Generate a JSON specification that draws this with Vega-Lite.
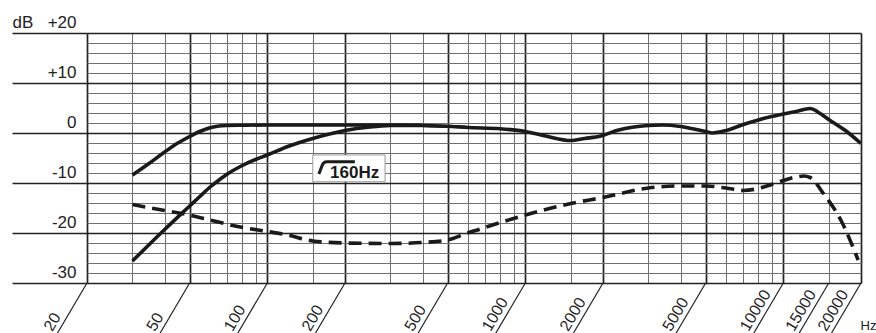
{
  "$schema": "https://vega.github.io/schema/vega-lite/v6.json",
  "width": 774,
  "height": 250,
  "autosize": {"type": "none"},
  "padding": {"left": 87, "top": 33, "right": 15, "bottom": 50},
  "background": "white",
  "config": {"view": {"stroke": null}, "font": "Liberation Sans"},
  "datasets": {
    "curves": [
      {"series": "A", "hz": 30, "db": -8.4},
      {"series": "A", "hz": 35, "db": -6.0},
      {"series": "A", "hz": 40, "db": -3.8},
      {"series": "A", "hz": 45, "db": -2.0},
      {"series": "A", "hz": 50, "db": -0.7},
      {"series": "A", "hz": 55, "db": 0.35},
      {"series": "A", "hz": 60, "db": 1.05},
      {"series": "A", "hz": 65, "db": 1.4},
      {"series": "A", "hz": 70, "db": 1.5},
      {"series": "A", "hz": 80, "db": 1.55},
      {"series": "A", "hz": 100, "db": 1.6},
      {"series": "A", "hz": 150, "db": 1.6},
      {"series": "A", "hz": 200, "db": 1.6},
      {"series": "A", "hz": 300, "db": 1.6},
      {"series": "A", "hz": 400, "db": 1.5},
      {"series": "A", "hz": 500, "db": 1.35},
      {"series": "A", "hz": 600, "db": 1.1},
      {"series": "A", "hz": 800, "db": 0.85},
      {"series": "A", "hz": 1000, "db": 0.3},
      {"series": "A", "hz": 1200, "db": -0.6},
      {"series": "A", "hz": 1500, "db": -1.5},
      {"series": "A", "hz": 1700, "db": -1.1},
      {"series": "A", "hz": 1960, "db": -0.6},
      {"series": "A", "hz": 2300, "db": 0.6},
      {"series": "A", "hz": 3000, "db": 1.5},
      {"series": "A", "hz": 3400, "db": 1.6},
      {"series": "A", "hz": 4000, "db": 1.3},
      {"series": "A", "hz": 4500, "db": 0.8},
      {"series": "A", "hz": 5000, "db": 0.3},
      {"series": "A", "hz": 5300, "db": 0.0},
      {"series": "A", "hz": 6000, "db": 0.5},
      {"series": "A", "hz": 7000, "db": 1.7},
      {"series": "A", "hz": 8000, "db": 2.6},
      {"series": "A", "hz": 9000, "db": 3.3},
      {"series": "A", "hz": 10000, "db": 3.8},
      {"series": "A", "hz": 11200, "db": 4.3},
      {"series": "A", "hz": 12700, "db": 4.9},
      {"series": "A", "hz": 13900, "db": 3.9},
      {"series": "A", "hz": 15000, "db": 2.7},
      {"series": "A", "hz": 17400, "db": 0.5},
      {"series": "A", "hz": 20000, "db": -2.1},
      {"series": "B", "hz": 30, "db": -25.6},
      {"series": "B", "hz": 40, "db": -19.3},
      {"series": "B", "hz": 50, "db": -14.6},
      {"series": "B", "hz": 55, "db": -12.6},
      {"series": "B", "hz": 60, "db": -10.8},
      {"series": "B", "hz": 65, "db": -9.4},
      {"series": "B", "hz": 70, "db": -8.2},
      {"series": "B", "hz": 80, "db": -6.5},
      {"series": "B", "hz": 90, "db": -5.3},
      {"series": "B", "hz": 100, "db": -4.4},
      {"series": "B", "hz": 120, "db": -2.7},
      {"series": "B", "hz": 150, "db": -1.1},
      {"series": "B", "hz": 200, "db": 0.5},
      {"series": "B", "hz": 250, "db": 1.2},
      {"series": "B", "hz": 300, "db": 1.5},
      {"series": "B", "hz": 400, "db": 1.55},
      {"series": "C", "hz": 30, "db": -14.3},
      {"series": "C", "hz": 40, "db": -15.5},
      {"series": "C", "hz": 46.6, "db": -16.1},
      {"series": "C", "hz": 60, "db": -17.4},
      {"series": "C", "hz": 75, "db": -18.6},
      {"series": "C", "hz": 100, "db": -19.7},
      {"series": "C", "hz": 120, "db": -20.4},
      {"series": "C", "hz": 150, "db": -21.6},
      {"series": "C", "hz": 200, "db": -22.0},
      {"series": "C", "hz": 300, "db": -22.1},
      {"series": "C", "hz": 400, "db": -21.9},
      {"series": "C", "hz": 500, "db": -21.4},
      {"series": "C", "hz": 590, "db": -20.1},
      {"series": "C", "hz": 670, "db": -19.2},
      {"series": "C", "hz": 800, "db": -17.9},
      {"series": "C", "hz": 1000, "db": -16.4},
      {"series": "C", "hz": 1500, "db": -14.1},
      {"series": "C", "hz": 2000, "db": -12.9},
      {"series": "C", "hz": 3000, "db": -11.0},
      {"series": "C", "hz": 4000, "db": -10.6},
      {"series": "C", "hz": 5000, "db": -10.6},
      {"series": "C", "hz": 6000, "db": -11.0},
      {"series": "C", "hz": 7000, "db": -11.5},
      {"series": "C", "hz": 8000, "db": -11.1},
      {"series": "C", "hz": 9000, "db": -10.3},
      {"series": "C", "hz": 10000, "db": -9.5},
      {"series": "C", "hz": 11000, "db": -8.9},
      {"series": "C", "hz": 12000, "db": -8.6},
      {"series": "C", "hz": 12700, "db": -8.9},
      {"series": "C", "hz": 14300, "db": -12.1},
      {"series": "C", "hz": 16700, "db": -17.4},
      {"series": "C", "hz": 19500, "db": -25.4}
    ],
    "xlabels": [
      {"hz": 20, "label": "20"},
      {"hz": 50, "label": "50"},
      {"hz": 100, "label": "100"},
      {"hz": 200, "label": "200"},
      {"hz": 500, "label": "500"},
      {"hz": 1000, "label": "1000"},
      {"hz": 2000, "label": "2000"},
      {"hz": 5000, "label": "5000"},
      {"hz": 10000, "label": "10000"},
      {"hz": 15000, "label": "15000"},
      {"hz": 20000, "label": "20000"}
    ],
    "note": [{"label": "160Hz"}]
  },
  "resolve": {"axis": {"x": "independent", "y": "independent"}},
  "layer": [
    {
      "data": {"name": "curves"},
      "transform": [{"filter": "datum.series !== 'C'"}],
      "mark": {"type": "line", "interpolate": "monotone", "stroke": "#1a1a1a", "strokeWidth": 3.6, "strokeJoin": "round"},
      "encoding": {
        "x": {
          "field": "hz", "type": "quantitative",
          "scale": {"type": "log", "domain": [20, 20000], "nice": false},
          "axis": {
            "orient": "bottom",
            "values": [20, 50, 100, 200, 500, 1000, 2000, 5000, 10000, 20000],
            "grid": true,
            "gridColor": "#222222",
            "gridWidth": 1.7,
            "labels": false,
            "ticks": false,
            "domain": false,
            "title": "Hz",
            "titleX": 773,
            "titleY": 46,
            "titleAlign": "left",
            "titleBaseline": "alphabetic",
            "titleAngle": 0,
            "titleFontSize": 13,
            "titleFontWeight": "normal",
            "titleColor": "#222222",
            "titleFont": "Liberation Sans"
          }
        },
        "y": {
          "field": "db", "type": "quantitative",
          "scale": {"domain": [-30, 20], "nice": false, "zero": false},
          "axis": {
            "orient": "left",
            "values": [-30, -20, -10, 0, 10, 20],
            "grid": true,
            "gridColor": "#222222",
            "gridWidth": 1.7,
            "ticks": true,
            "tickSize": 75,
            "tickWidth": 1.7,
            "tickColor": "#222222",
            "domain": false,
            "labelExpr": "datum.value > 0 ? '+' + datum.value : '' + datum.value",
            "labelPadding": -64,
            "labelOffset": -6,
            "labelBaseline": "alphabetic",
            "labelAlign": "right",
            "labelFontSize": 17,
            "labelFont": "Liberation Sans",
            "labelColor": "#222222",
            "labelOverlap": false,
            "labelFlush": false,
            "labelBound": false,
            "title": "dB",
            "titleAngle": 0,
            "titleX": -75,
            "titleY": -6,
            "titleAlign": "left",
            "titleBaseline": "alphabetic",
            "titleFontSize": 17,
            "titleFontWeight": "normal",
            "titleColor": "#222222",
            "titleFont": "Liberation Sans"
          }
        },
        "detail": {"field": "series"}
      }
    },
    {
      "data": {"name": "curves"},
      "transform": [{"filter": "datum.series === 'C'"}],
      "mark": {"type": "line", "interpolate": "monotone", "stroke": "#1a1a1a", "strokeWidth": 3.6, "strokeDash": [13, 7]},
      "encoding": {
        "x": {
          "field": "hz", "type": "quantitative",
          "axis": {
            "orient": "top",
            "values": [30, 40, 60, 70, 80, 90, 150, 300, 400, 600, 700, 800, 900, 1500, 3000, 4000, 6000, 7000, 8000, 9000, 15000],
            "grid": true,
            "gridColor": "#707070",
            "gridWidth": 1,
            "labels": false,
            "ticks": false,
            "domain": false,
            "title": null
          }
        },
        "y": {
          "field": "db", "type": "quantitative",
          "axis": {
            "orient": "right",
            "values": [-28, -26, -24, -22, -18, -16, -14, -12, -8, -6, -4, -2, 2, 4, 6, 8, 12, 14, 16, 18],
            "grid": true,
            "gridColor": "#707070",
            "gridWidth": 1,
            "ticks": false,
            "labels": false,
            "domain": false,
            "title": null
          }
        }
      }
    },
    {
      "data": {"name": "note"},
      "mark": {"type": "rect", "fill": "white", "stroke": "#9a9a9a", "strokeWidth": 1},
      "encoding": {
        "x": {"datum": 150, "type": "quantitative", "axis": null},
        "x2": {"datum": 286},
        "y": {"datum": -4.4, "type": "quantitative", "axis": null},
        "y2": {"datum": -9.75}
      }
    },
    {
      "data": {"name": "note"},
      "mark": {"type": "point", "shape": "M-0.9,0.3L-0.72,-0.17Q-0.66,-0.315,-0.5,-0.315L0.9,-0.315", "size": 1600, "filled": false, "stroke": "#1a1a1a", "strokeWidth": 3, "opacity": 1, "strokeCap": "butt"},
      "encoding": {
        "x": {"datum": 186, "type": "quantitative", "axis": null},
        "y": {"datum": -7.0, "type": "quantitative", "axis": null}
      }
    },
    {
      "data": {"name": "note"},
      "mark": {"type": "text", "align": "left", "baseline": "alphabetic", "fontSize": 17, "fontWeight": "bold", "font": "Liberation Sans", "color": "#1a1a1a"},
      "encoding": {
        "x": {"datum": 175, "type": "quantitative", "axis": null},
        "y": {"datum": -9.0, "type": "quantitative", "axis": null},
        "text": {"field": "label"}
      }
    },
    {
      "data": {"name": "xlabels"},
      "mark": {"type": "point", "shape": "M0,0L-0.59,1", "size": 10000, "filled": false, "stroke": "#222222", "strokeWidth": 1.2, "opacity": 1},
      "encoding": {
        "x": {"field": "hz", "type": "quantitative", "axis": null},
        "y": {"datum": -30, "type": "quantitative", "axis": null}
      }
    },
    {
      "data": {"name": "xlabels"},
      "mark": {"type": "text", "angle": -59.5, "align": "left", "baseline": "middle", "dx": -60, "dy": -10, "fontSize": 16, "font": "Liberation Sans", "color": "#222222"},
      "encoding": {
        "x": {"field": "hz", "type": "quantitative", "axis": null},
        "y": {"datum": -30, "type": "quantitative", "axis": null},
        "text": {"field": "label"}
      }
    }
  ]
}
